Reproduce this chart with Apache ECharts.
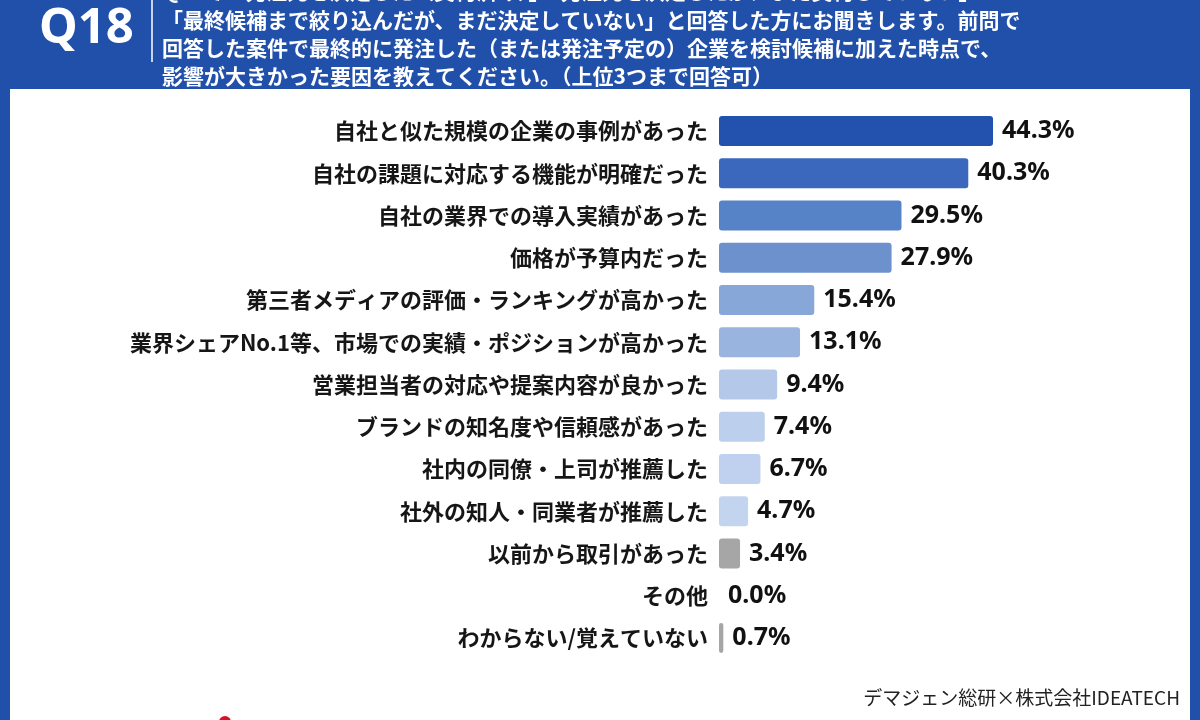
<!DOCTYPE html>
<html>
<head>
<meta charset="utf-8">
<title>Q18</title>
<script src="https://cdn.jsdelivr.net/npm/echarts@6/dist/echarts.min.js"></script>
<style>
  html, body { margin: 0; padding: 0; background: #2150ab; }
  #main { width: 1200px; height: 720px; }
</style>
</head>
<body>
<div id="main"></div>
<script>
// データ
var categories = [
    '自社と似た規模の企業の事例があった',
    '自社の課題に対応する機能が明確だった',
    '自社の業界での導入実績があった',
    '価格が予算内だった',
    '第三者メディアの評価・ランキングが高かった',
    '業界シェアNo.1等、市場での実績・ポジションが高かった',
    '営業担当者の対応や提案内容が良かった',
    'ブランドの知名度や信頼感があった',
    '社内の同僚・上司が推薦した',
    '社外の知人・同業者が推薦した',
    '以前から取引があった',
    'その他',
    'わからない/覚えていない'
];
var values = [44.3, 40.3, 29.5, 27.9, 15.4, 13.1, 9.4, 7.4, 6.7, 4.7, 3.4, 0.0, 0.7];
var barColors = ['#2252ad', '#3b67bc', '#5682c7', '#6c91cd', '#88a7d9', '#99b4df',
    '#b4c8ea', '#bccfed', '#bfd1ee', '#c3d4ef', '#a6a6a6', '#a6a6a6', '#a6a6a6'];

var headerLines = [
    'Q17で「発注先を決定した（契約済み）」「発注先を決定したが、まだ契約していない」',
    '「最終候補まで絞り込んだが、まだ決定していない」と回答した方にお聞きします。前問で',
    '回答した案件で最終的に発注した（または発注予定の）企業を検討候補に加えた時点で、',
    '影響が大きかった要因を教えてください。（上位3つまで回答可）'
];
var source = 'デマジェン総研×株式会社IDEATECH';

var FONT = '"Noto Sans CJK JP", "Noto Sans", sans-serif';

var myChart = echarts.init(document.getElementById('main'));

// ヘッダーの文
var headerGraphics = headerLines.map(function (t, i) {
    return {
        type: 'text',
        left: 162,
        top: -19 + i * 28.2,
        z: 10,
        style: { text: t, fill: '#ffffff', font: 'bold 21px ' + FONT }
    };
});

var option = {
    backgroundColor: '#2150ab',
    animation: false,
    textStyle: { fontFamily: FONT },
    graphic: [
        { type: 'rect', shape: { x: 10, y: 89, width: 1180, height: 640 }, style: { fill: '#ffffff' }, z: 0 },
        { type: 'text', left: 39, top: 5, z: 10,
          style: { text: 'Q18', fill: '#ffffff', font: 'bold 49px "Noto Sans", sans-serif' } },
        { type: 'line', shape: { x1: 152, y1: 0, x2: 152, y2: 62 }, style: { stroke: '#ffffff', lineWidth: 1.5 }, z: 10 },
        { type: 'text', right: 20, top: 688, z: 10,
          style: { text: source, fill: '#222222', font: '19px ' + FONT } },
        { type: 'circle', shape: { cx: 225, cy: 722, r: 6 }, style: { fill: '#d9102a' }, z: 10 }
    ].concat(headerGraphics),
    grid: {
        left: 719,
        right: 48,
        top: 110,
        height: 549
    },
    xAxis: {
        type: 'value',
        min: 0,
        max: 70,
        show: false
    },
    yAxis: {
        type: 'category',
        inverse: true,
        data: categories,
        axisLine: { show: false },
        axisTick: { show: false },
        axisLabel: {
            margin: 11,
            color: '#161616',
            fontSize: 22,
            fontWeight: 'bold',
            fontFamily: FONT
        }
    },
    series: [{
        type: 'bar',
        barWidth: 30,
        data: values.map(function (v, i) {
            return { value: v, itemStyle: { color: barColors[i] } };
        }),
        itemStyle: { borderRadius: 3 },
        label: {
            show: true,
            position: 'right',
            distance: 9,
            color: '#111111',
            fontSize: 25,
            fontWeight: 'bold',
            fontFamily: '"Noto Sans", sans-serif',
            formatter: function (p) { return p.value.toFixed(1) + '%'; }
        }
    }]
};

myChart.setOption(option);
</script>
</body>
</html>
